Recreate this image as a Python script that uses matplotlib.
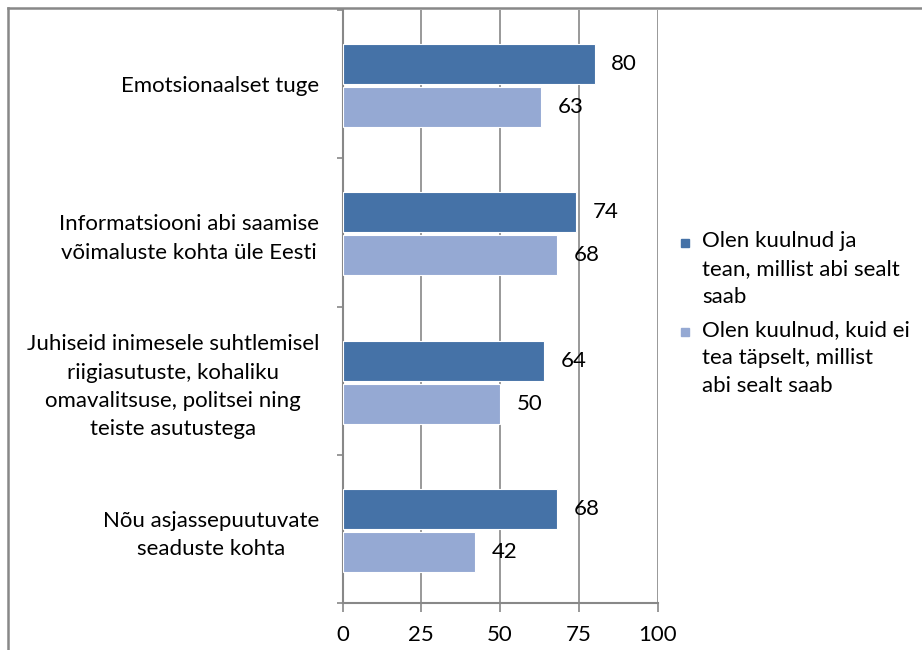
import matplotlib.pyplot as plt
import numpy as np
from matplotlib.lines import Line2D
from matplotlib.patches import Rectangle

categories = ['Emotsionaalset tuge',
              'Informatsiooni abi saamise\nvõimaluste kohta üle Eesti',
              'Juhiseid inimesele suhtlemisel\nriigiasutuste, kohaliku\nomavalitsuse, politsei ning\nteiste asutustega',
              'Nõu asjassepuutuvate\nseaduste kohta']
known = [80, 74, 64, 68]
unsure = [63, 68, 50, 42]
series_names = ['Olen kuulnud ja\ntean, millist abi sealt\nsaab',
                'Olen kuulnud, kuid ei\ntea täpselt, millist\nabi sealt saab']
xticks = [0, 25, 50, 75, 100]

dark = '#4572A7'
light = '#95A9D3'
gray = '#888888'

plt.rcParams['font.family'] = ['Lato', 'DejaVu Sans']
fs = 16

fig = plt.figure(figsize=(9.22, 6.5), dpi=100)
ax = fig.add_axes([342.5 / 922, 1 - 603 / 650, 315 / 922, 593 / 650])

pos = np.arange(len(categories))
h = 0.27
off = 0.145
b1 = ax.barh(pos - off + 0.01, known, height=h, color=dark, edgecolor='white', linewidth=0.8, zorder=3)
b2 = ax.barh(pos + off + 0.01, unsure, height=h, color=light, edgecolor='white', linewidth=0.8, zorder=3)

for bars, vals in ((b1, known), (b2, unsure)):
    for r, v in zip(bars, vals):
        ax.annotate(str(v), (v, r.get_y() + r.get_height() / 2), xytext=(12, 0),
                    textcoords='offset points', ha='left', va='center', fontsize=fs, zorder=4)

ax.set_xlim(0, 100)
ax.set_ylim(len(categories) - 0.5, -0.5)
ax.set_xticks(xticks)
ax.set_xticklabels([str(t) for t in xticks], fontsize=fs)
ax.tick_params(axis='x', direction='out', length=6.5, width=1.2, color=gray, pad=9)

ax.set_yticks(np.arange(len(categories) + 1) - 0.5)
ax.set_yticklabels([])
ax.tick_params(axis='y', which='major', direction='out', length=4.5, width=1.2, color=gray)
ax.set_yticks(pos, minor=True)
ax.set_yticklabels(categories, minor=True, fontsize=fs, multialignment='center', linespacing=1.52)
ax.tick_params(axis='y', which='minor', length=0, pad=17)

ax.grid(axis='x', color=gray, linewidth=1.2, zorder=0)
for s in ('top', 'right'):
    ax.spines[s].set_visible(False)
for s in ('left', 'bottom'):
    ax.spines[s].set_color(gray)
    ax.spines[s].set_linewidth(1.5)

# legend drawn by hand so the square sits at the first line
W, H = 922, 650
for name, col, ytop in ((series_names[0], dark, 243), (series_names[1], light, 332)):
    fig.add_artist(Rectangle((681 / W, 1 - (ytop + 4) / H), 8 / W, 8 / H,
                             transform=fig.transFigure, color=col))
    fig.text(702 / W, 1 - (ytop - 12) / H, name, fontsize=fs, va='top', ha='left', linespacing=1.5)

# outer chart border
fig.add_artist(Line2D([8 / W, 1.05], [1 - 8 / H, 1 - 8 / H], color=gray, linewidth=1.8))
fig.add_artist(Line2D([8 / W, 8 / W], [1 - 8 / H, -0.05], color=gray, linewidth=1.8))

fig.savefig('out.png', dpi=100)
